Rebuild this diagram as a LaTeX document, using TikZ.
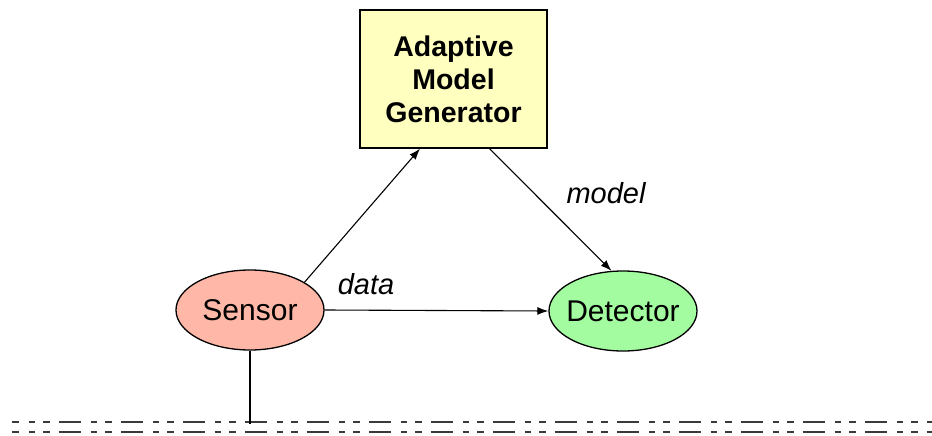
\documentclass[tikz,border=0pt]{standalone}
\usepackage{fontspec}
\setmainfont{Liberation Sans}
\usetikzlibrary{shapes.geometric,arrows.meta}
\definecolor{boxfill}{HTML}{FFFFC0}
\definecolor{sensorfill}{HTML}{FFB8A8}
\definecolor{detfill}{HTML}{A3FDA0}
\definecolor{busgray}{HTML}{3A3A3A}
\begin{document}
\begin{tikzpicture}[x=1pt,y=-1pt,
  every node/.style={inner sep=0pt},
  blob/.style={ellipse,draw=black,line width=1.3pt,inner xsep=-10pt,minimum width=148pt,minimum height=80pt,
    font=\fontsize{30}{34}\selectfont},
  genbox/.style={rectangle,draw=black,line width=1.3pt,fill=boxfill,minimum width=187pt,
    minimum height=138pt,align=center,font=\fontsize{28.5}{33}\selectfont\bfseries},
  flow/.style={line width=1.1pt,-{Latex[length=11pt,width=8pt]}},
  lbl/.style={font=\fontsize{29}{33}\selectfont\itshape},
  bus/.style={draw=busgray,line width=2pt,dash pattern=on 22pt off 10pt on 6.5pt off 8pt on 6.5pt off 9pt,dash phase=15.1pt}]
\useasboundingbox (0,0) rectangle (932,436);
\fill[white] (0,0) rectangle (932,436);

% components
\node[genbox] (gen) at (453.5,79) {Adaptive\\Model\\Generator};
\node[blob,fill=sensorfill] (sensor) at (250,310) {Sensor};
\node[blob,fill=detfill] (det) at (623,311) {Detector};

% data paths
\draw[flow] (sensor.27) -- ([xshift=-33.5pt]gen.south);
\draw[flow] ([xshift=36pt]gen.south) -- (det.106);
\draw[flow] (sensor.east) -- (det.west);
\node[lbl] (datalbl) at (366,284) {data};
\node[lbl] (modellbl) at (606,193) {model};

% bus lines
\coordinate (busL1) at (11.7,422);
\coordinate (busR1) at (932,422);
\coordinate (busL2) at (11.7,432.3);
\coordinate (busR2) at (932,432.3);
\coordinate (tap) at (250,424);
\draw[bus] (busL1) -- (busR1);
\draw[bus] (busL2) -- (busR2);
\draw[line width=1.3pt] (sensor.south) -- (tap);
\end{tikzpicture}
\end{document}
